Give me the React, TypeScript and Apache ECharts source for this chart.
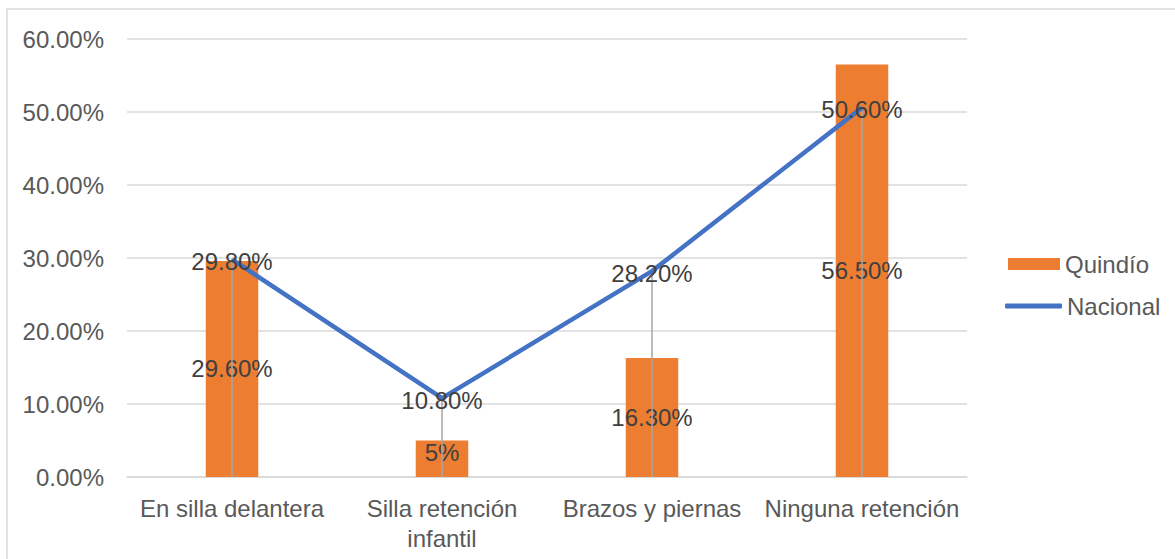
import React, { useEffect, useRef } from "react";
import * as echarts from "echarts";

const categories = ["En silla delantera", "Silla retención\ninfantil", "Brazos y piernas", "Ninguna retención"];
const quindioValues = [29.6, 5, 16.3, 56.5];
const quindioLabels = ["29.60%", "5%", "16.30%", "56.50%"];
const nacionalValues = [29.8, 10.8, 28.2, 50.6];
const nacionalLabels = ["29.80%", "10.80%", "28.20%", "50.60%"];
const yTicks = [0, 10, 20, 30, 40, 50, 60];

const FONT = "'Liberation Sans', Arial, sans-serif";
const FS = 24;

export default function App() {
  const ref = useRef<HTMLDivElement>(null);
  useEffect(() => {
    document.body.style.margin = "0";
    const chart = echarts.init(ref.current!, undefined, { renderer: "svg" });
    chart.setOption({
      animation: false,
      textStyle: { fontFamily: FONT },
      graphic: [
        {
          type: "rect",
          shape: { x: 7, y: 9, width: 1400, height: 800 },
          style: { fill: "none", stroke: "#d9d9d9", lineWidth: 1.5 },
          silent: true,
        },
      ],
      grid: { left: 127, right: 208, top: 39, bottom: 82, containLabel: false },
      legend: [
        {
          data: [{ name: "Quindío", icon: "rect" }],
          left: 1003,
          top: 247,
          itemWidth: 52,
          itemHeight: 12,
          itemGap: 5,
          textStyle: { fontSize: FS, color: "#595959", fontFamily: FONT },
        },
        {
          data: [{ name: "Nacional", icon: "roundRect" }],
          left: 1000,
          top: 289,
          itemWidth: 57,
          itemHeight: 5,
          itemGap: 4,
          textStyle: { fontSize: FS, color: "#595959", fontFamily: FONT },
        },
      ],
      xAxis: {
        type: "category",
        data: categories,
        axisLine: { lineStyle: { color: "#d9d9d9", width: 1.5 } },
        axisTick: { show: false },
        axisLabel: {
          fontSize: FS,
          color: "#595959",
          margin: 16,
          lineHeight: 30,
          interval: 0,
          fontFamily: FONT,
        },
      },
      yAxis: {
        type: "value",
        min: yTicks[0],
        max: yTicks[yTicks.length - 1],
        interval: 10,
        axisLine: { show: false },
        axisTick: { show: false },
        splitLine: { lineStyle: { color: "#d9d9d9", width: 1.5 } },
        axisLabel: {
          fontSize: FS,
          color: "#595959",
          margin: 23,
          fontFamily: FONT,
          formatter: (v: number) => v.toFixed(2) + "%",
        },
      },
      series: [
        {
          name: "Quindío",
          type: "bar",
          data: quindioValues.map((v, i) =>
            i === 1 ? { value: v, label: { offset: [0, -6] } } : v
          ),
          barWidth: "25%",
          itemStyle: { color: "#ED7D31" },
          z: 2,
          label: {
            show: true,
            position: "inside",
            fontSize: FS,
            color: "#404040",
            fontFamily: FONT,
            formatter: (p: any) => quindioLabels[p.dataIndex],
          },
        },
        {
          name: "drop",
          type: "custom",
          data: nacionalValues.map((v, i) => [i, v]),
          z: 3,
          silent: true,
          renderItem: (params: any, api: any) => {
            const top = api.coord([api.value(0), api.value(1)]);
            const bottom = api.coord([api.value(0), 0]);
            return {
              type: "line",
              shape: { x1: top[0], y1: top[1], x2: bottom[0], y2: bottom[1] },
              style: { stroke: "#a6a6a6", lineWidth: 1.5 },
            };
          },
        },
        {
          name: "Nacional",
          type: "line",
          data: nacionalValues,
          symbol: "circle",
          symbolSize: 1,
          showSymbol: true,
          z: 4,
          lineStyle: { color: "#4472C4", width: 4.5 },
          itemStyle: { color: "#4472C4" },
          label: {
            show: true,
            position: "inside",
            offset: [0, 2],
            fontSize: FS,
            color: "#404040",
            fontFamily: FONT,
            formatter: (p: any) => nacionalLabels[p.dataIndex],
          },
        },
      ],
    });
    return () => chart.dispose();
  }, []);
  return <div ref={ref} style={{ width: 1175, height: 559 }} />;
}
